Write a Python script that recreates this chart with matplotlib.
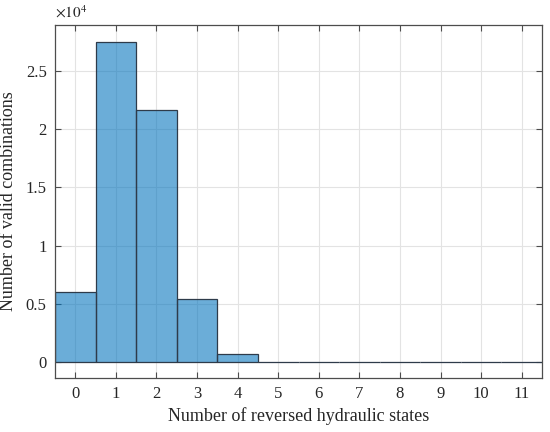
"""Histogram of valid combinations vs number of reversed hydraulic states."""

import numpy as np
import matplotlib.pyplot as plt

# data
states = np.arange(12)
valid_counts = [6050, 27470, 21670, 5400, 690, 10, 0, 0, 0, 0, 0, 0]
ytick_values = [0, 5000, 10000, 15000, 20000, 25000]
ytick_labels = ["0", "0.5", "1", "1.5", "2", "2.5"]

plt.rcParams["font.family"] = ["Liberation Serif", "DejaVu Serif"]
plt.rcParams["mathtext.fontset"] = "stix"

fig = plt.figure(figsize=(5.5, 4.32), dpi=100)
ax = fig.add_axes([0.1, 0.1257, 0.8855, 0.8163])

axis_color = "#4d4d4d"
ax.set_axisbelow(True)
ax.grid(True, color="#e3e3e3", linewidth=0.8)

ax.bar(
    states,
    valid_counts,
    width=1.0,
    color="#0072BD",
    alpha=0.58,
    edgecolor="none",
)
ax.bar(
    states,
    valid_counts,
    width=1.0,
    facecolor="none",
    edgecolor="#2e3b4a",
    linewidth=0.9,
)

ax.set_xlim(-0.5, 11.5)
ax.set_ylim(-1320, 28930)
ax.set_xticks(states)
ax.set_yticks(ytick_values)
ax.set_yticklabels(ytick_labels)

for spine in ax.spines.values():
    spine.set_color(axis_color)
    spine.set_linewidth(0.9)
ax.tick_params(
    direction="in", length=4, width=0.8, color=axis_color,
    top=True, right=True, labelsize=12, labelcolor="#262626", pad=6,
)

ax.set_xlabel("Number of reversed hydraulic states", fontsize=13, color="#262626", labelpad=4)
ax.set_ylabel("Number of valid combinations", fontsize=13, color="#262626", labelpad=6)
ax.text(0.0, 1.012, r"$\times10^{4}$", transform=ax.transAxes,
        fontsize=11, color="#262626", ha="left", va="bottom")

fig.savefig("out.png", dpi=100)
plt.close(fig)
